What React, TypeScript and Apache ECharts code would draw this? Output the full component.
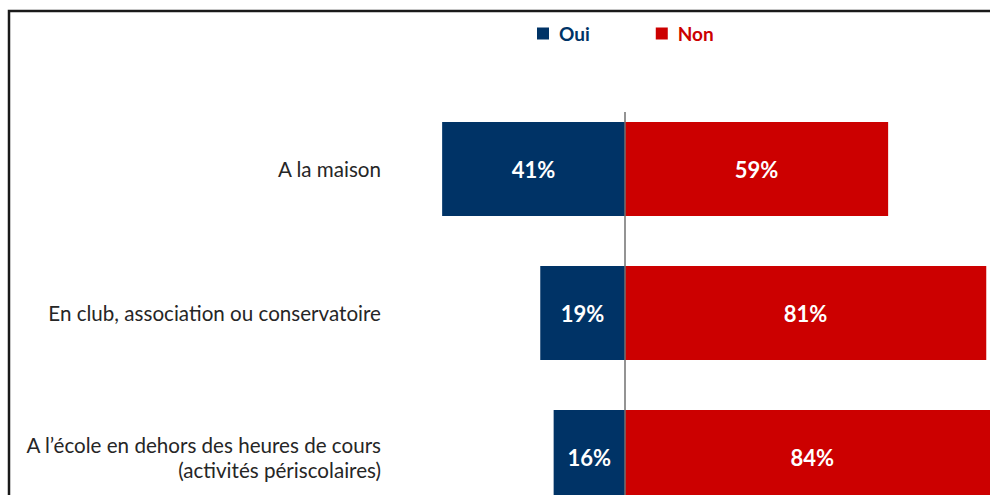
import React, { useEffect, useRef } from "react";
import * as echarts from "echarts";

const categories = [
  "A la maison",
  "En club, association ou conservatoire",
  "A l\u2019école en dehors des heures de cours\n(activités périscolaires)",
];
const ouiValues = [41, 19, 16];
const nonValues = [59, 81, 84];
const seriesNames = ["Oui", "Non"];

const NAVY = "#003366";
const RED = "#CC0000";
const FONT = "Lato";

export default function App() {
  const ref = useRef<HTMLDivElement>(null);
  useEffect(() => {
    if (!ref.current) return;
    const chart = echarts.init(ref.current, undefined, { renderer: "svg" });
    const option: any = {
      animation: false,
      backgroundColor: "#ffffff",
      legend: {
        top: 24,
        left: 537,
        padding: 0,
        itemWidth: 12,
        itemHeight: 12,
        itemGap: 66,
        icon: "rect",
        data: [
          { name: seriesNames[0], textStyle: { color: NAVY } },
          { name: seriesNames[1], textStyle: { color: RED } },
        ],
        textStyle: {
          fontFamily: FONT,
          fontSize: 19,
          fontWeight: "bold",
          padding: [0, 0, 0, 5],
        },
      },
      grid: {
        left: 402,
        top: 97,
        width: 669,
        height: 432,
        containLabel: false,
        outerBoundsMode: "none",
      },
      xAxis: {
        type: "value",
        min: -50,
        max: 100,
        show: false,
      },
      yAxis: {
        type: "category",
        inverse: true,
        data: categories,
        axisLine: { show: false },
        axisTick: { show: false },
        axisLabel: {
          margin: 21,
          fontFamily: FONT,
          fontSize: 20.6,
          color: "#262626",
          align: "right",
          lineHeight: 25,
        },
      },
      series: [
        {
          name: seriesNames[0],
          type: "bar",
          data: ouiValues.map((v) => -v),
          barWidth: 94,
          barGap: "-100%",
          itemStyle: { color: NAVY },
          label: {
            show: true,
            position: "inside",
            formatter: (p: any) => Math.abs(p.value) + "%",
            color: "#fff",
            fontFamily: FONT,
            fontSize: 22,
            fontWeight: "bold",
          },
        },
        {
          name: seriesNames[1],
          type: "bar",
          data: nonValues,
          barWidth: 94,
          barGap: "-100%",
          itemStyle: { color: RED },
          label: {
            show: true,
            position: "inside",
            formatter: (p: any) => p.value + "%",
            color: "#fff",
            fontFamily: FONT,
            fontSize: 22,
            fontWeight: "bold",
          },
        },
      ],
    };
    chart.setOption(option);
    const x0 = chart.convertToPixel({ xAxisIndex: 0 }, 0) as number;
    const yFirst = chart.convertToPixel({ yAxisIndex: 0 }, categories[0]) as number;
    chart.setOption({
      graphic: [
        {
          type: "line",
          z: 100,
          shape: { x1: x0, y1: yFirst - 57, x2: x0, y2: 495 },
          style: { stroke: "#707070", lineWidth: 1.5 },
        },
        {
          type: "polyline",
          z: 100,
          shape: { points: [[9, 495], [9, 11], [990, 11]] },
          style: { stroke: "#1a1a1a", lineWidth: 2.5, fill: "none" },
        },
      ],
    });
    return () => chart.dispose();
  }, []);
  return (
    <div
      ref={ref}
      style={{ position: "absolute", left: 0, top: 0, width: 990, height: 495 }}
    />
  );
}
